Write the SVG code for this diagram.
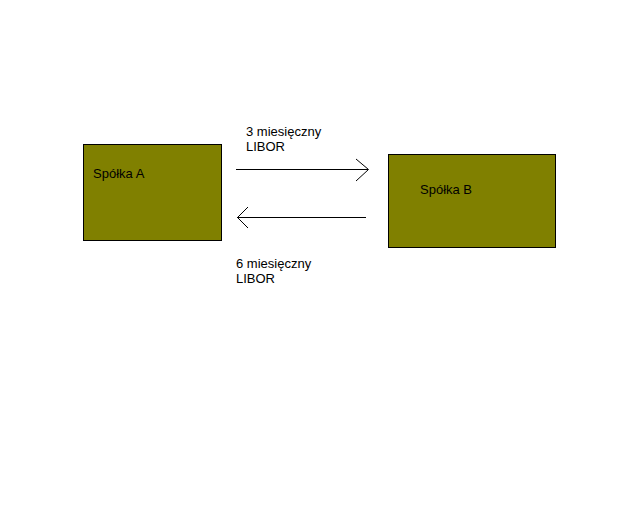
<svg xmlns="http://www.w3.org/2000/svg" width="630" height="529" viewBox="0 0 630 529">
<style>
.box{fill:#808000;stroke:#000;stroke-width:1}
.lbl{font-family:"Liberation Sans",Arial,sans-serif;font-size:13px;fill:#000}
.ln{stroke:#000;stroke-width:1;fill:none}
</style>
<rect width="630" height="529" fill="#fff"/>
<g id="spolka-a">
<rect class="box" x="83.5" y="144.5" width="138" height="96"/>
<text class="lbl" x="93" y="178">Spółka A</text>
</g>
<g id="spolka-b">
<rect class="box" x="388.5" y="154.5" width="167" height="93"/>
<text class="lbl" x="420" y="194">Spółka B</text>
</g>
<g id="connectors">
<path class="ln" d="M236 169.5H368M356 159L368.5 169.5L356 181"/>
<path class="ln" d="M366 217.5H237M248 207L237.5 217.5L248 228"/>
<text class="lbl" x="246" y="136">3 miesięczny</text>
<text class="lbl" x="246" y="151">LIBOR</text>
<text class="lbl" x="236" y="268">6 miesięczny</text>
<text class="lbl" x="236" y="283">LIBOR</text>
</g>
</svg>
